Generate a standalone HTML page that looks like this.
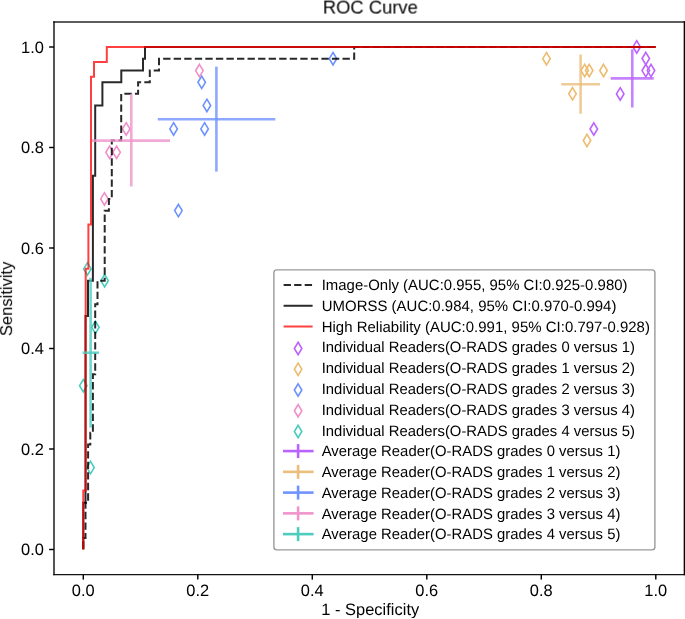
<!DOCTYPE html>
<html><head><meta charset="utf-8"><style>
html,body{margin:0;padding:0;background:#fff;}
body{width:685px;height:619px;overflow:hidden;font-family:"Liberation Sans",sans-serif;}
svg{display:block;}
</style></head><body>
<svg width="685" height="619" viewBox="0 0 685 619">
<defs><filter id="bl" x="0" y="0" width="1" height="1" color-interpolation-filters="sRGB"><feGaussianBlur stdDeviation="0.30"/></filter></defs>
<rect width="685" height="619" fill="#fff"/>
<g filter="url(#bl)">
<path d="M636.70 40.70L640.45 46.90L636.70 53.10L632.95 46.90Z" fill="none" stroke="rgb(188,98,255)" stroke-width="1.60" stroke-linejoin="miter"/>
<path d="M645.80 52.30L649.55 58.50L645.80 64.70L642.05 58.50Z" fill="none" stroke="rgb(188,98,255)" stroke-width="1.60" stroke-linejoin="miter"/>
<path d="M645.80 64.40L649.55 70.60L645.80 76.80L642.05 70.60Z" fill="none" stroke="rgb(188,98,255)" stroke-width="1.60" stroke-linejoin="miter"/>
<path d="M651.00 64.40L654.75 70.60L651.00 76.80L647.25 70.60Z" fill="none" stroke="rgb(188,98,255)" stroke-width="1.60" stroke-linejoin="miter"/>
<path d="M620.20 87.70L623.95 93.90L620.20 100.10L616.45 93.90Z" fill="none" stroke="rgb(188,98,255)" stroke-width="1.60" stroke-linejoin="miter"/>
<path d="M593.80 122.80L597.55 129.00L593.80 135.20L590.05 129.00Z" fill="none" stroke="rgb(188,98,255)" stroke-width="1.60" stroke-linejoin="miter"/>
<path d="M546.50 52.50L550.25 58.70L546.50 64.90L542.75 58.70Z" fill="none" stroke="rgb(238,188,112)" stroke-width="1.60" stroke-linejoin="miter"/>
<path d="M584.70 64.30L588.45 70.50L584.70 76.70L580.95 70.50Z" fill="none" stroke="rgb(238,188,112)" stroke-width="1.60" stroke-linejoin="miter"/>
<path d="M589.20 64.30L592.95 70.50L589.20 76.70L585.45 70.50Z" fill="none" stroke="rgb(238,188,112)" stroke-width="1.60" stroke-linejoin="miter"/>
<path d="M603.50 64.30L607.25 70.50L603.50 76.70L599.75 70.50Z" fill="none" stroke="rgb(238,188,112)" stroke-width="1.60" stroke-linejoin="miter"/>
<path d="M572.50 87.60L576.25 93.80L572.50 100.00L568.75 93.80Z" fill="none" stroke="rgb(238,188,112)" stroke-width="1.60" stroke-linejoin="miter"/>
<path d="M587.00 134.30L590.75 140.50L587.00 146.70L583.25 140.50Z" fill="none" stroke="rgb(238,188,112)" stroke-width="1.60" stroke-linejoin="miter"/>
<path d="M333.00 52.50L336.75 58.70L333.00 64.90L329.25 58.70Z" fill="none" stroke="rgb(108,146,255)" stroke-width="1.60" stroke-linejoin="miter"/>
<path d="M201.70 76.10L205.45 82.30L201.70 88.50L197.95 82.30Z" fill="none" stroke="rgb(108,146,255)" stroke-width="1.60" stroke-linejoin="miter"/>
<path d="M206.90 99.20L210.65 105.40L206.90 111.60L203.15 105.40Z" fill="none" stroke="rgb(108,146,255)" stroke-width="1.60" stroke-linejoin="miter"/>
<path d="M173.60 122.70L177.35 128.90L173.60 135.10L169.85 128.90Z" fill="none" stroke="rgb(108,146,255)" stroke-width="1.60" stroke-linejoin="miter"/>
<path d="M204.60 122.70L208.35 128.90L204.60 135.10L200.85 128.90Z" fill="none" stroke="rgb(108,146,255)" stroke-width="1.60" stroke-linejoin="miter"/>
<path d="M178.40 204.40L182.15 210.60L178.40 216.80L174.65 210.60Z" fill="none" stroke="rgb(108,146,255)" stroke-width="1.60" stroke-linejoin="miter"/>
<path d="M199.40 64.40L203.15 70.60L199.40 76.80L195.65 70.60Z" fill="none" stroke="rgb(240,142,202)" stroke-width="1.60" stroke-linejoin="miter"/>
<path d="M126.20 122.70L129.95 128.90L126.20 135.10L122.45 128.90Z" fill="none" stroke="rgb(240,142,202)" stroke-width="1.60" stroke-linejoin="miter"/>
<path d="M109.60 146.10L113.35 152.30L109.60 158.50L105.85 152.30Z" fill="none" stroke="rgb(240,142,202)" stroke-width="1.60" stroke-linejoin="miter"/>
<path d="M116.60 146.10L120.35 152.30L116.60 158.50L112.85 152.30Z" fill="none" stroke="rgb(240,142,202)" stroke-width="1.60" stroke-linejoin="miter"/>
<path d="M104.40 192.70L108.15 198.90L104.40 205.10L100.65 198.90Z" fill="none" stroke="rgb(240,142,202)" stroke-width="1.60" stroke-linejoin="miter"/>
<path d="M87.40 262.70L91.15 268.90L87.40 275.10L83.65 268.90Z" fill="none" stroke="rgb(72,205,188)" stroke-width="1.60" stroke-linejoin="miter"/>
<path d="M104.60 274.50L108.35 280.70L104.60 286.90L100.85 280.70Z" fill="none" stroke="rgb(72,205,188)" stroke-width="1.60" stroke-linejoin="miter"/>
<path d="M95.40 321.10L99.15 327.30L95.40 333.50L91.65 327.30Z" fill="none" stroke="rgb(72,205,188)" stroke-width="1.60" stroke-linejoin="miter"/>
<path d="M83.30 379.50L87.05 385.70L83.30 391.90L79.55 385.70Z" fill="none" stroke="rgb(72,205,188)" stroke-width="1.60" stroke-linejoin="miter"/>
<path d="M90.50 461.40L94.25 467.60L90.50 473.80L86.75 467.60Z" fill="none" stroke="rgb(72,205,188)" stroke-width="1.60" stroke-linejoin="miter"/>
<path d="M83.30 549.60 L83.30 537.91 L85.50 537.91 L85.50 502.86 L88.10 502.86 L88.10 444.43 L90.30 444.43 L90.30 432.74 L92.90 432.74 L92.90 374.31 L95.20 374.31 L95.20 304.19 L97.50 304.19 L97.50 280.82 L104.70 280.82 L104.70 210.70 L108.90 210.70 L108.90 199.02 L111.80 199.02 L111.80 140.59 L121.20 140.59 L121.20 93.84 L138.10 93.84 L138.10 82.16 L149.80 82.16 L149.80 70.47 L159.00 70.47 L159.00 58.79 L354.20 58.79 L354.20 47.10 L655.80 47.10" fill="none" stroke="#000" stroke-opacity="0.84" stroke-width="2.00" stroke-dasharray="7.36 3.19" stroke-dashoffset="-0.950"/>
<path d="M83.30 549.60 L83.30 502.86 L85.50 502.86 L85.50 315.88 L88.00 315.88 L88.00 280.82 L92.90 280.82 L92.90 175.65 L95.20 175.65 L95.20 105.53 L102.40 105.53 L102.40 82.16 L121.30 82.16 L121.30 70.47 L143.00 70.47 L143.00 58.79 L145.00 58.79 L145.00 47.10 L655.80 47.10" fill="none" stroke="#000" stroke-opacity="0.84" stroke-width="2.00"/>
<path d="M83.30 549.60 L83.30 490.48 L85.70 490.48 L85.70 268.79 L88.40 268.79 L88.40 224.45 L91.00 224.45 L91.00 76.66 L94.00 76.66 L94.00 61.88 L106.80 61.88 L106.80 47.10 L655.80 47.10" fill="none" stroke="#ff0000" stroke-opacity="0.75" stroke-width="2.00"/>
<g stroke="rgb(185,100,255)" stroke-opacity="0.80" stroke-width="2.60" fill="none"><path d="M610.70 78.40L653.70 78.40"/><path d="M632.30 49.30L632.30 107.50"/></g>
<g stroke="rgb(235,190,125)" stroke-opacity="0.80" stroke-width="2.60" fill="none"><path d="M561.20 84.20L600.00 84.20"/><path d="M580.60 54.50L580.60 113.80"/></g>
<g stroke="rgb(112,148,255)" stroke-opacity="0.80" stroke-width="2.60" fill="none"><path d="M157.80 119.20L275.30 119.20"/><path d="M216.40 66.60L216.40 171.60"/></g>
<g stroke="rgb(240,148,204)" stroke-opacity="0.80" stroke-width="2.60" fill="none"><path d="M92.00 140.60L170.00 140.60"/><path d="M131.30 94.00L131.30 186.50"/></g>
<g stroke="rgb(78,205,190)" stroke-opacity="0.80" stroke-width="2.60" fill="none"><path d="M82.60 352.70L99.00 352.70"/><path d="M90.60 277.80L90.60 427.60"/></g>
<path d="M54.0 21.3V575.3" fill="none" stroke="#000" stroke-opacity="0.92" stroke-width="1.45"/>
<path d="M684.4 21.3V575.3" fill="none" stroke="#000" stroke-width="1.45"/>
<path d="M53.3 22.0H685.2" fill="none" stroke="#000" stroke-opacity="0.85" stroke-width="1.5"/>
<path d="M53.3 574.65H685.2" fill="none" stroke="#000" stroke-opacity="0.92" stroke-width="1.35"/>
<path d="M83.30 574.5V579.6" stroke="#000" stroke-width="1.45"/>
<text transform="translate(83.30 595.50) skewX(0.3)" font-family="Liberation Sans, sans-serif" font-size="16.50" text-anchor="middle" fill="#000">0.0</text>
<path d="M197.80 574.5V579.6" stroke="#000" stroke-width="1.45"/>
<text transform="translate(197.80 595.50) skewX(0.3)" font-family="Liberation Sans, sans-serif" font-size="16.50" text-anchor="middle" fill="#000">0.2</text>
<path d="M312.30 574.5V579.6" stroke="#000" stroke-width="1.45"/>
<text transform="translate(312.30 595.50) skewX(0.3)" font-family="Liberation Sans, sans-serif" font-size="16.50" text-anchor="middle" fill="#000">0.4</text>
<path d="M426.80 574.5V579.6" stroke="#000" stroke-width="1.45"/>
<text transform="translate(426.80 595.50) skewX(0.3)" font-family="Liberation Sans, sans-serif" font-size="16.50" text-anchor="middle" fill="#000">0.6</text>
<path d="M541.30 574.5V579.6" stroke="#000" stroke-width="1.45"/>
<text transform="translate(541.30 595.50) skewX(0.3)" font-family="Liberation Sans, sans-serif" font-size="16.50" text-anchor="middle" fill="#000">0.8</text>
<path d="M655.80 574.5V579.6" stroke="#000" stroke-width="1.45"/>
<text transform="translate(655.80 595.50) skewX(0.3)" font-family="Liberation Sans, sans-serif" font-size="16.50" text-anchor="middle" fill="#000">1.0</text>
<path d="M49.1 549.50H54.0" stroke="#000" stroke-width="1.45"/>
<text transform="translate(44.00 555.30) skewX(0.3)" font-family="Liberation Sans, sans-serif" font-size="16.50" text-anchor="end" fill="#000">0.0</text>
<path d="M49.1 449.00H54.0" stroke="#000" stroke-width="1.45"/>
<text transform="translate(44.00 454.80) skewX(0.3)" font-family="Liberation Sans, sans-serif" font-size="16.50" text-anchor="end" fill="#000">0.2</text>
<path d="M49.1 348.50H54.0" stroke="#000" stroke-width="1.45"/>
<text transform="translate(44.00 354.30) skewX(0.3)" font-family="Liberation Sans, sans-serif" font-size="16.50" text-anchor="end" fill="#000">0.4</text>
<path d="M49.1 248.00H54.0" stroke="#000" stroke-width="1.45"/>
<text transform="translate(44.00 253.80) skewX(0.3)" font-family="Liberation Sans, sans-serif" font-size="16.50" text-anchor="end" fill="#000">0.6</text>
<path d="M49.1 147.50H54.0" stroke="#000" stroke-width="1.45"/>
<text transform="translate(44.00 153.30) skewX(0.3)" font-family="Liberation Sans, sans-serif" font-size="16.50" text-anchor="end" fill="#000">0.8</text>
<path d="M49.1 47.00H54.0" stroke="#000" stroke-width="1.45"/>
<text transform="translate(44.00 52.80) skewX(0.3)" font-family="Liberation Sans, sans-serif" font-size="16.50" text-anchor="end" fill="#000">1.0</text>
<text transform="translate(370.20 614.60) skewX(0.3)" font-family="Liberation Sans, sans-serif" font-size="16.50" text-anchor="middle" fill="#000">1 - Specificity</text>
<text transform="translate(12.10 298.80) rotate(-90) skewX(0.3)" font-family="Liberation Sans, sans-serif" font-size="16.50" text-anchor="middle" fill="#000">Sensitivity</text>
<text transform="translate(370.40 13.60) skewX(0.3)" font-family="Liberation Sans, sans-serif" font-size="18.40" text-anchor="middle" fill="#000">ROC Curve</text>
<rect x="273.9" y="269.9" width="381.0" height="280.0" rx="2.8" ry="2.8" fill="#fff" fill-opacity="0.8" stroke="#9a9a9a" stroke-width="1.4"/>
<path d="M283.60 285.00H312.60" stroke="#000" stroke-opacity="0.84" stroke-width="2.00" stroke-dasharray="7.36 3.19"/>
<text transform="translate(321.70 290.20) skewX(0.3)" font-family="Liberation Sans, sans-serif" font-size="15.00" fill="#000" textLength="305.80" lengthAdjust="spacingAndGlyphs">Image-Only (AUC:0.955, 95&#37; CI:0.925-0.980)</text>
<path d="M283.60 305.76H312.60" stroke="#000" stroke-opacity="0.84" stroke-width="2.00"/>
<text transform="translate(321.70 310.96) skewX(0.3)" font-family="Liberation Sans, sans-serif" font-size="15.00" fill="#000" textLength="294.70" lengthAdjust="spacingAndGlyphs">UMORSS (AUC:0.984, 95&#37; CI:0.970-0.994)</text>
<path d="M283.60 326.52H312.60" stroke="#ff0000" stroke-opacity="0.75" stroke-width="2.00"/>
<text transform="translate(321.70 331.72) skewX(0.3)" font-family="Liberation Sans, sans-serif" font-size="15.00" fill="#000" textLength="328.20" lengthAdjust="spacingAndGlyphs">High Reliability (AUC:0.991, 95&#37; CI:0.797-0.928)</text>
<path d="M298.10 342.28L301.85 348.48L298.10 354.68L294.35 348.48Z" fill="none" stroke="rgb(188,98,255)" stroke-width="1.60" stroke-linejoin="miter"/>
<text transform="translate(321.70 352.48) skewX(0.3)" font-family="Liberation Sans, sans-serif" font-size="15.00" fill="#000" textLength="313.30" lengthAdjust="spacingAndGlyphs">Individual Readers(O-RADS grades 0 versus 1)</text>
<path d="M298.10 363.04L301.85 369.24L298.10 375.44L294.35 369.24Z" fill="none" stroke="rgb(238,188,112)" stroke-width="1.60" stroke-linejoin="miter"/>
<text transform="translate(321.70 373.24) skewX(0.3)" font-family="Liberation Sans, sans-serif" font-size="15.00" fill="#000" textLength="313.30" lengthAdjust="spacingAndGlyphs">Individual Readers(O-RADS grades 1 versus 2)</text>
<path d="M298.10 383.80L301.85 390.00L298.10 396.20L294.35 390.00Z" fill="none" stroke="rgb(108,146,255)" stroke-width="1.60" stroke-linejoin="miter"/>
<text transform="translate(321.70 394.00) skewX(0.3)" font-family="Liberation Sans, sans-serif" font-size="15.00" fill="#000" textLength="313.30" lengthAdjust="spacingAndGlyphs">Individual Readers(O-RADS grades 2 versus 3)</text>
<path d="M298.10 404.56L301.85 410.76L298.10 416.96L294.35 410.76Z" fill="none" stroke="rgb(240,142,202)" stroke-width="1.60" stroke-linejoin="miter"/>
<text transform="translate(321.70 414.76) skewX(0.3)" font-family="Liberation Sans, sans-serif" font-size="15.00" fill="#000" textLength="313.30" lengthAdjust="spacingAndGlyphs">Individual Readers(O-RADS grades 3 versus 4)</text>
<path d="M298.10 425.32L301.85 431.52L298.10 437.72L294.35 431.52Z" fill="none" stroke="rgb(72,205,188)" stroke-width="1.60" stroke-linejoin="miter"/>
<text transform="translate(321.70 435.52) skewX(0.3)" font-family="Liberation Sans, sans-serif" font-size="15.00" fill="#000" textLength="313.30" lengthAdjust="spacingAndGlyphs">Individual Readers(O-RADS grades 4 versus 5)</text>
<g stroke="rgb(185,100,255)" stroke-opacity="1.00" stroke-width="2.60" fill="none"><path d="M283.00 451.08H313.60"/><path d="M298.10 444.08V458.08"/></g>
<text transform="translate(321.70 456.28) skewX(0.3)" font-family="Liberation Sans, sans-serif" font-size="15.00" fill="#000" textLength="298.70" lengthAdjust="spacingAndGlyphs">Average Reader(O-RADS grades 0 versus 1)</text>
<g stroke="rgb(235,190,125)" stroke-opacity="1.00" stroke-width="2.60" fill="none"><path d="M283.00 471.84H313.60"/><path d="M298.10 464.84V478.84"/></g>
<text transform="translate(321.70 477.04) skewX(0.3)" font-family="Liberation Sans, sans-serif" font-size="15.00" fill="#000" textLength="298.70" lengthAdjust="spacingAndGlyphs">Average Reader(O-RADS grades 1 versus 2)</text>
<g stroke="rgb(112,148,255)" stroke-opacity="1.00" stroke-width="2.60" fill="none"><path d="M283.00 492.60H313.60"/><path d="M298.10 485.60V499.60"/></g>
<text transform="translate(321.70 497.80) skewX(0.3)" font-family="Liberation Sans, sans-serif" font-size="15.00" fill="#000" textLength="298.70" lengthAdjust="spacingAndGlyphs">Average Reader(O-RADS grades 2 versus 3)</text>
<g stroke="rgb(240,148,204)" stroke-opacity="1.00" stroke-width="2.60" fill="none"><path d="M283.00 513.36H313.60"/><path d="M298.10 506.36V520.36"/></g>
<text transform="translate(321.70 518.56) skewX(0.3)" font-family="Liberation Sans, sans-serif" font-size="15.00" fill="#000" textLength="298.70" lengthAdjust="spacingAndGlyphs">Average Reader(O-RADS grades 3 versus 4)</text>
<g stroke="rgb(78,205,190)" stroke-opacity="1.00" stroke-width="2.60" fill="none"><path d="M283.00 534.12H313.60"/><path d="M298.10 527.12V541.12"/></g>
<text transform="translate(321.70 539.32) skewX(0.3)" font-family="Liberation Sans, sans-serif" font-size="15.00" fill="#000" textLength="298.70" lengthAdjust="spacingAndGlyphs">Average Reader(O-RADS grades 4 versus 5)</text>
</g>
</svg>
</body></html>
